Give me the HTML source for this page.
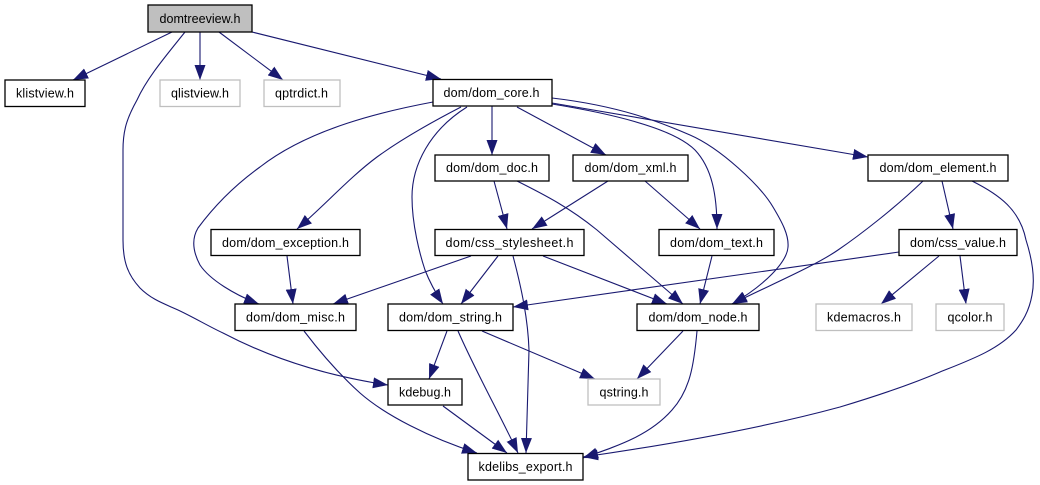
<!DOCTYPE html>
<html><head><meta charset="utf-8"><style>
html,body{margin:0;padding:0;background:#fff;width:1040px;height:485px;overflow:hidden}
svg{display:block}
.n rect{fill:#fff;stroke:#000;stroke-width:1.3}
.g rect{fill:#fff;stroke:#bfbfbf;stroke-width:1.3}
text{font-family:"Liberation Sans",sans-serif;font-size:12.5px;text-anchor:middle;fill:#000}
.e path{fill:none;stroke:#191970;stroke-width:1.1;marker-end:url(#a)}
</style></head><body>
<svg width="1040" height="485" viewBox="0 0 1040 485" xmlns="http://www.w3.org/2000/svg">
<defs><marker id="a" markerUnits="userSpaceOnUse" markerWidth="16" markerHeight="13" refX="15" refY="6" orient="auto"><path d="M0,0.5 L15,6 L0,11.5 Z" fill="#191970"/></marker></defs>
<g class="e">
<path d="M172,32 L73,80"/>
<path d="M185,32 C165,57 147,78 137,100 C127,118 123,130 123,150 L123,240 C123,262 128,275 140,288 C152,300 165,304 178,310 C195,318 208,326 223,333 C265,355 320,375 388,385"/>
<path d="M200,32 L200,80"/>
<path d="M219,32 L283,80"/>
<path d="M252,32 L441,79"/>
<path d="M433,102 C385,111 310,128 260,167 C235,185 215,205 198,228 C192,238 192,250 200,265 C210,280 235,295 259,304"/>
<path d="M461,107 C432,122 403,138 377,157 C350,177 325,205 297,229"/>
<path d="M492,106 L492,155"/>
<path d="M517,107 L606,155"/>
<path d="M552,104 C620,115 675,130 695,150 C712,168 717,195 717,229"/>
<path d="M552,103 L868,157"/>
<path d="M552,98 C620,106 660,122 690,135 C720,148 760,185 773,207 C782,222 789,235 788,247 C787,262 765,285 732,304"/>
<path d="M467,107 C430,130 412,165 412,197 C412,225 420,255 425,270 C430,283 437,295 443,304"/>
<path d="M494,181 L507,229"/>
<path d="M517,181 C545,195 570,208 597,230 L683,304"/>
<path d="M608,181 L532,229"/>
<path d="M645,181 L700,229"/>
<path d="M923,181 C895,208 860,235 838,250 C815,266 770,285 732,304"/>
<path d="M942,181 L953,229"/>
<path d="M972,181 C1000,195 1020,210 1026,240 C1033,262 1035,280 1032,295 C1029,312 1022,322 1016,330 C998,350 970,360 940,372 C905,387 870,398 840,407 C770,426 680,443 583,457"/>
<path d="M899,252 L513,307"/>
<path d="M939,256 L881,304"/>
<path d="M960,256 L966,304"/>
<path d="M712,256 L700,304"/>
<path d="M471,256 L333,304"/>
<path d="M498,256 L461,304"/>
<path d="M513,256 C522,290 528,320 529,350 L526,453"/>
<path d="M543,256 L667,304"/>
<path d="M287,256 L293,304"/>
<path d="M304,331 C320,352 340,375 360,393 C385,415 430,438 477,453"/>
<path d="M447,331 L429,379"/>
<path d="M458,331 C475,370 500,415 518,453"/>
<path d="M482,331 L595,379"/>
<path d="M683,331 L637,379"/>
<path d="M697,331 C694,365 690,390 672,410 C650,435 620,445 583,458"/>
<path d="M443,406 L507,453"/>
</g>
<g class="n"><rect x="148" y="5" width="104" height="27" style="fill:#bfbfbf"/><text x="200" y="23" textLength="81">domtreeview.h</text></g>
<g class="n"><rect x="5" y="80" width="80" height="26.5"/><text x="45" y="97.5" textLength="58">klistview.h</text></g>
<g class="g"><rect x="160" y="80" width="80" height="26.5"/><text x="200" y="97.5" textLength="58">qlistview.h</text></g>
<g class="g"><rect x="264" y="80" width="76" height="26.5"/><text x="301.500" y="97.5" textLength="53">qptrdict.h</text></g>
<g class="n"><rect x="433" y="79.5" width="119" height="26.5"/><text x="491.500" y="97" textLength="96">dom/dom_core.h</text></g>
<g class="n"><rect x="435" y="155" width="114" height="26"/><text x="492" y="172" textLength="92">dom/dom_doc.h</text></g>
<g class="n"><rect x="573" y="155" width="115" height="26"/><text x="630.500" y="172" textLength="92">dom/dom_xml.h</text></g>
<g class="n"><rect x="868" y="155" width="140" height="26"/><text x="938" y="172" textLength="117">dom/dom_element.h</text></g>
<g class="n"><rect x="211" y="229.500" width="149" height="26"/><text x="285.500" y="247" textLength="127">dom/dom_exception.h</text></g>
<g class="n"><rect x="435" y="229.500" width="149" height="26"/><text x="509.500" y="247" textLength="128">dom/css_stylesheet.h</text></g>
<g class="n"><rect x="659" y="229.500" width="115" height="26"/><text x="716.500" y="247" textLength="93">dom/dom_text.h</text></g>
<g class="n"><rect x="899" y="229.500" width="118" height="26"/><text x="958" y="247" textLength="96">dom/css_value.h</text></g>
<g class="n"><rect x="235" y="304" width="121" height="26.500"/><text x="295.500" y="321.500" textLength="99">dom/dom_misc.h</text></g>
<g class="n"><rect x="388" y="304" width="125" height="26.500"/><text x="450.500" y="321.500" textLength="103">dom/dom_string.h</text></g>
<g class="n"><rect x="637" y="304" width="122" height="26.500"/><text x="698" y="321.500" textLength="99">dom/dom_node.h</text></g>
<g class="g"><rect x="816" y="304" width="96" height="26.500"/><text x="864" y="321.500" textLength="74">kdemacros.h</text></g>
<g class="g"><rect x="936" y="304" width="68" height="26.500"/><text x="970" y="321.500" textLength="45">qcolor.h</text></g>
<g class="n"><rect x="388" y="379" width="74" height="26"/><text x="425" y="396.500" textLength="52">kdebug.h</text></g>
<g class="g"><rect x="588" y="379" width="72" height="26"/><text x="624" y="396.500" textLength="49">qstring.h</text></g>
<g class="n"><rect x="468" y="453.500" width="115" height="26.500"/><text x="525.500" y="471" textLength="94">kdelibs_export.h</text></g>
</svg>
</body></html>
